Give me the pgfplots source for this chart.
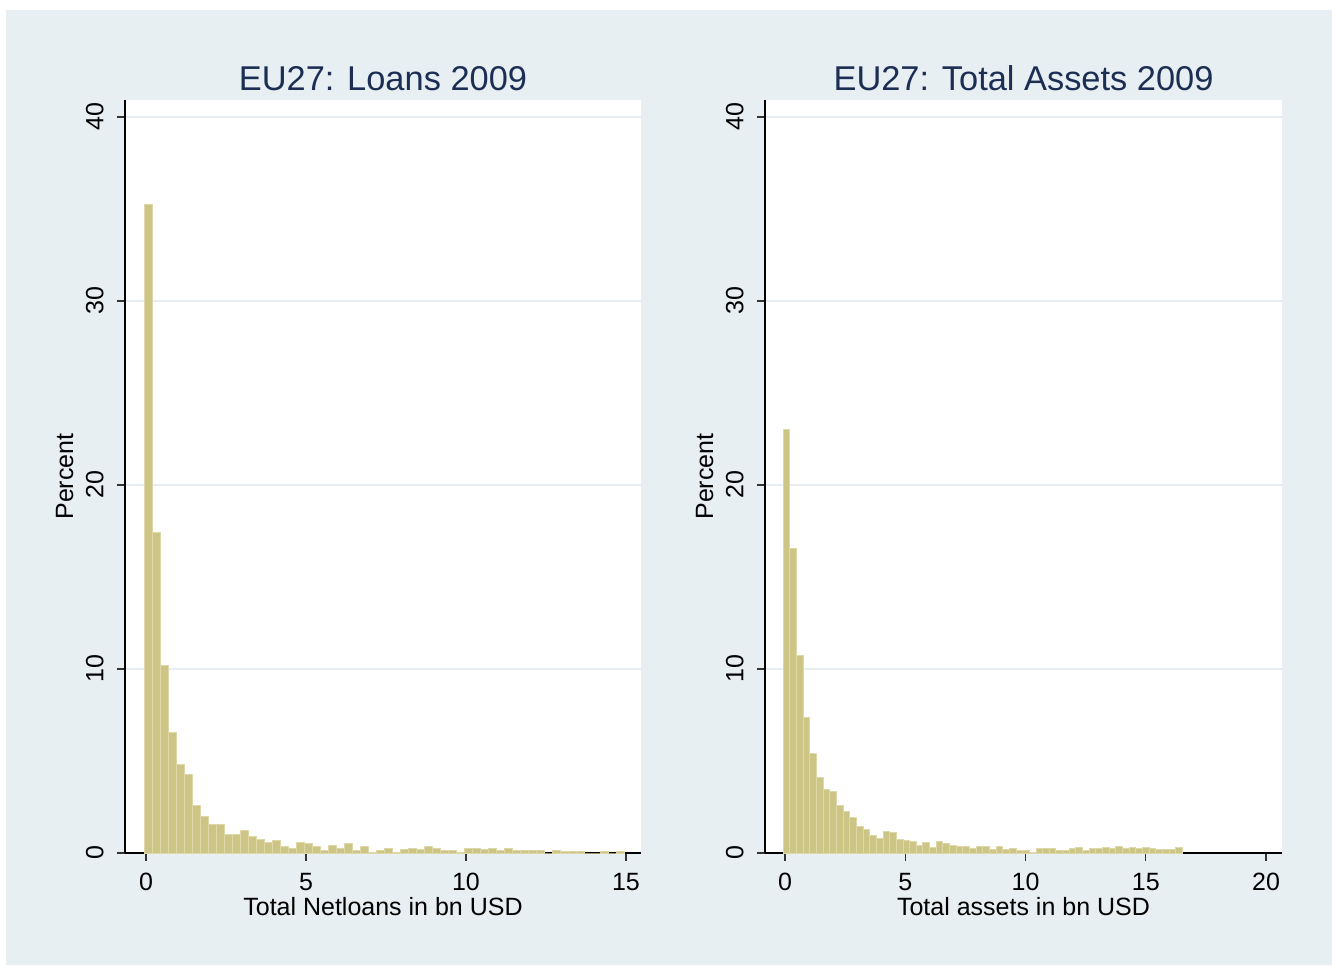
\documentclass[border=0pt]{standalone}
\usepackage{fontspec}
\setmainfont{Liberation Sans}
\usepackage{pgfplots}
\usepackage{pgfplotstable}
\pgfplotsset{compat=1.18}
\definecolor{bgc}{RGB}{232,239,242}
\definecolor{barfill}{RGB}{205,197,133}
\definecolor{barline}{RGB}{222,215,168}
\definecolor{gridc}{RGB}{232,239,242}
\definecolor{titlec}{RGB}{28,46,84}

\pgfplotstableread{
x y
-0.04 35.25
0.21 17.4
0.46 10.2
0.71 6.57
0.96 4.83
1.21 4.29
1.46 2.56
1.71 1.97
1.96 1.57
2.21 1.57
2.46 0.99
2.71 0.99
2.96 1.21
3.21 0.91
3.46 0.75
3.71 0.56
3.96 0.70
4.21 0.35
4.46 0.27
4.71 0.56
4.96 0.54
5.21 0.36
5.46 0.14
5.71 0.43
5.96 0.24
6.21 0.51
6.46 0.14
6.71 0.33
6.96 0.04
7.21 0.14
7.46 0.25
7.71 0.04
7.96 0.19
8.21 0.27
8.46 0.17
8.71 0.33
8.96 0.22
9.21 0.15
9.46 0.15
9.71 0.05
9.96 0.22
10.21 0.27
10.46 0.20
10.71 0.22
10.96 0.11
11.21 0.22
11.46 0.15
11.71 0.15
11.96 0.15
12.21 0.15
12.46 0
12.71 0.15
12.96 0.09
13.21 0.09
13.46 0.09
13.71 0
13.96 0
14.21 0.09
14.46 0
14.71 0.09
14.96 0.09
}\loans

\pgfplotstableread{
x y
-0.07 23.0
0.2065 16.55
0.483 10.76
0.7595 7.36
1.036 5.42
1.3125 4.10
1.589 3.47
1.8655 3.34
2.142 2.58
2.4185 2.24
2.695 1.93
2.9715 1.44
3.248 1.30
3.5245 0.94
3.801 0.78
4.0775 1.17
4.354 1.10
4.6305 0.76
4.907 0.70
5.1835 0.65
5.46 0.42
5.7365 0.58
6.013 0.31
6.2895 0.63
6.566 0.53
6.8425 0.40
7.119 0.33
7.3955 0.38
7.672 0.22
7.9485 0.33
8.225 0.33
8.5015 0.20
8.778 0.33
9.0545 0.20
9.331 0.27
9.6075 0.14
9.884 0.11
10.1605 0.05
10.437 0.22
10.7135 0.27
10.99 0.22
11.2665 0.16
11.543 0.15
11.8195 0.23
12.096 0.28
12.3725 0.14
12.649 0.22
12.9255 0.22
13.202 0.29
13.4785 0.22
13.755 0.36
14.0315 0.22
14.308 0.29
14.5845 0.22
14.861 0.31
15.1375 0.22
15.414 0.18
15.6905 0.18
15.967 0.18
16.2435 0.31
16.52 0.31
}\assets

\pgfplotsset{
  statahist/.style={
    scale only axis,
    anchor=south west,
    height=376.5pt,
    ymin=0, ymax=40.92,
    ytick={0,10,20,30,40},
    axis x line*=bottom,
    axis y line*=left,
    axis line style={black, line width=0.7pt},
    axis background/.style={fill=white},
    tick align=outside,
    major tick length=4pt,
    tick style={black!80, line width=0.7pt},
    ymajorgrids,
    grid style={gridc, line width=0.9pt},
    /pgf/number format/assume math mode=true,
    ticklabel style={font=\fontsize{12.5}{15}\selectfont, black},
    xticklabel style={anchor=base, yshift=-14.5pt},
    yticklabel style={xshift=-6.85pt, rotate=90, anchor=base},
    label style={font=\fontsize{12.5}{15}\selectfont, black},
    xlabel style={at={(axis description cs:0.5,0)}, anchor=base, yshift=-31pt},
    ylabel style={at={([xshift=-26pt]axis description cs:0,0.5)}, anchor=base, rotate=0},
    title style={at={(axis description cs:0.5,1)}, anchor=base, yshift=-1.5pt,
                 font=\fontsize{17.2}{20}\selectfont, text=titlec},
    ylabel={Percent},
  },
  barstyle/.style={ybar interval, fill=barfill, draw=barline, line width=0.5pt},
}

\begin{document}
\begin{tikzpicture}[x=1pt,y=1pt]
\useasboundingbox (0,0) rectangle (666,482.5);
\fill[white] (0,0) rectangle (666,482.5);
\fill[bgc] (3,0) rectangle (666,477.5);

\begin{axis}[statahist,
  at={(62.5pt,56pt)},
  width=258pt,
  xmin=-0.656, xmax=15.469,
  xtick={0,5,10,15},
  title={EU27: Loans 2009},
  xlabel={Total Netloans in bn USD},
]
\addplot[barstyle] table[x=x,y=y] {\loans};
\end{axis}

\begin{axis}[statahist,
  at={(382.5pt,56pt)},
  width=258.5pt,
  xmin=-0.832, xmax=20.665,
  xtick={0,5,10,15,20},
  title={EU27: Total Assets 2009},
  xlabel={Total assets in bn USD},
]
\addplot[barstyle] table[x=x,y=y] {\assets};
\end{axis}
\end{tikzpicture}
\end{document}
